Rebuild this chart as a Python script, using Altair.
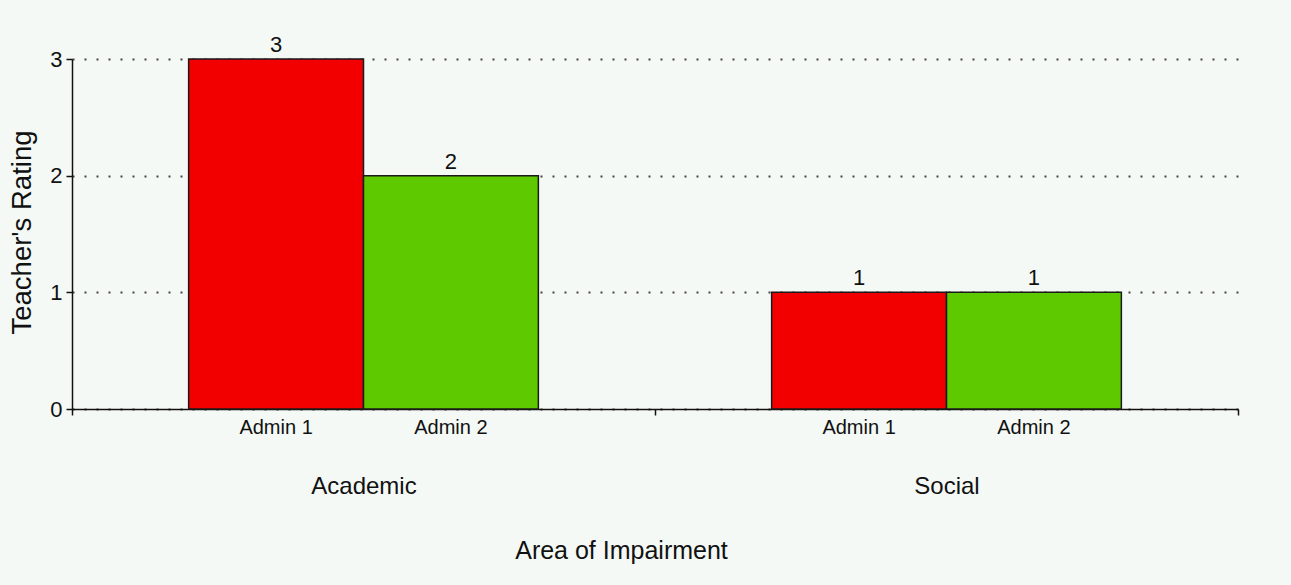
import altair as alt
import pandas as pd

areas = ["Academic", "Academic", "Social", "Social"]
admins = ["Admin 1", "Admin 2", "Admin 1", "Admin 2"]
ratings = [3, 2, 1, 1]
area_order = ["Academic", "Social"]
admin_order = ["Admin 1", "Admin 2"]
colors = ["#F20000", "#5FC900"]
y_ticks = [0, 1, 2, 3]

df = pd.DataFrame({"area": areas, "admin": admins, "rating": ratings})

FONT = "Liberation Sans"

x_enc = alt.X(
    "area:N",
    sort=area_order,
    scale=alt.Scale(paddingInner=0, paddingOuter=0),
    axis=alt.Axis(
        title="Area of Impairment",
        titleFont=FONT,
        titleFontSize=25,
        titleFontWeight="normal",
        titleColor="#111111",
        titlePadding=40,
        titleX=549,
        titleAlign="center",
        labelFont=FONT,
        labelFontSize=24,
        labelColor="#111111",
        labelPadding=59,
        labelAngle=0,
        tickBand="extent",
        tickSize=6,
        tickColor="#111111",
        domainColor="#111111",
        domainWidth=1.5,
        tickWidth=1.5,
        grid=False,
    ),
)
xoff_enc = alt.XOffset(
    "admin:N",
    sort=admin_order,
    scale=alt.Scale(paddingInner=0, paddingOuter=0.667),
)

y_enc = alt.Y(
    "rating:Q",
    scale=alt.Scale(domain=[0, 3], nice=False),
    axis=alt.Axis(
        title="Teacher's Rating",
        titleFont=FONT,
        titleFontSize=27.5,
        titleFontWeight="normal",
        titleColor="#111111",
        titlePadding=13,
        titleY=173,
        values=y_ticks,
        format="d",
        labelFont=FONT,
        labelFontSize=22,
        labelColor="#111111",
        labelPadding=4,
        tickSize=6,
        tickColor="#111111",
        domainColor="#111111",
        domainWidth=1.5,
        tickWidth=1.5,
        grid=True,
        gridColor="#444444",
        gridDash=[2, 10],
        gridWidth=2,
    ),
)

bars = alt.Chart(df).mark_bar(stroke="#1a1a1a", strokeWidth=1.5).encode(
    x=x_enc,
    xOffset=xoff_enc,
    y=y_enc,
    color=alt.Color(
        "admin:N",
        sort=admin_order,
        scale=alt.Scale(domain=admin_order, range=colors),
        legend=None,
    ),
)

values = alt.Chart(df).mark_text(
    font=FONT, fontSize=22, color="#111111", baseline="alphabetic", dy=-7
).encode(
    x=alt.X("area:N", sort=area_order),
    xOffset=alt.XOffset("admin:N", sort=admin_order),
    y="rating:Q",
    text="rating:Q",
)

admin_labels = alt.Chart(df).mark_text(
    font=FONT, fontSize=20, color="#111111", baseline="top"
).encode(
    x=alt.X("area:N", sort=area_order),
    xOffset=alt.XOffset("admin:N", sort=admin_order),
    y=alt.value(359),
    text="admin:N",
)

chart = (
    alt.layer(bars, values, admin_labels)
    .properties(
        width=1166,
        height=350,
        background="#F4F9F6",
        autosize=alt.AutoSizeParams(type="none"),
        padding={"left": 72, "top": 59, "right": 53, "bottom": 176},
    )
    .configure_view(stroke=None)
)

chart.save("out.html", embed_options={"renderer": "svg", "actions": False})
